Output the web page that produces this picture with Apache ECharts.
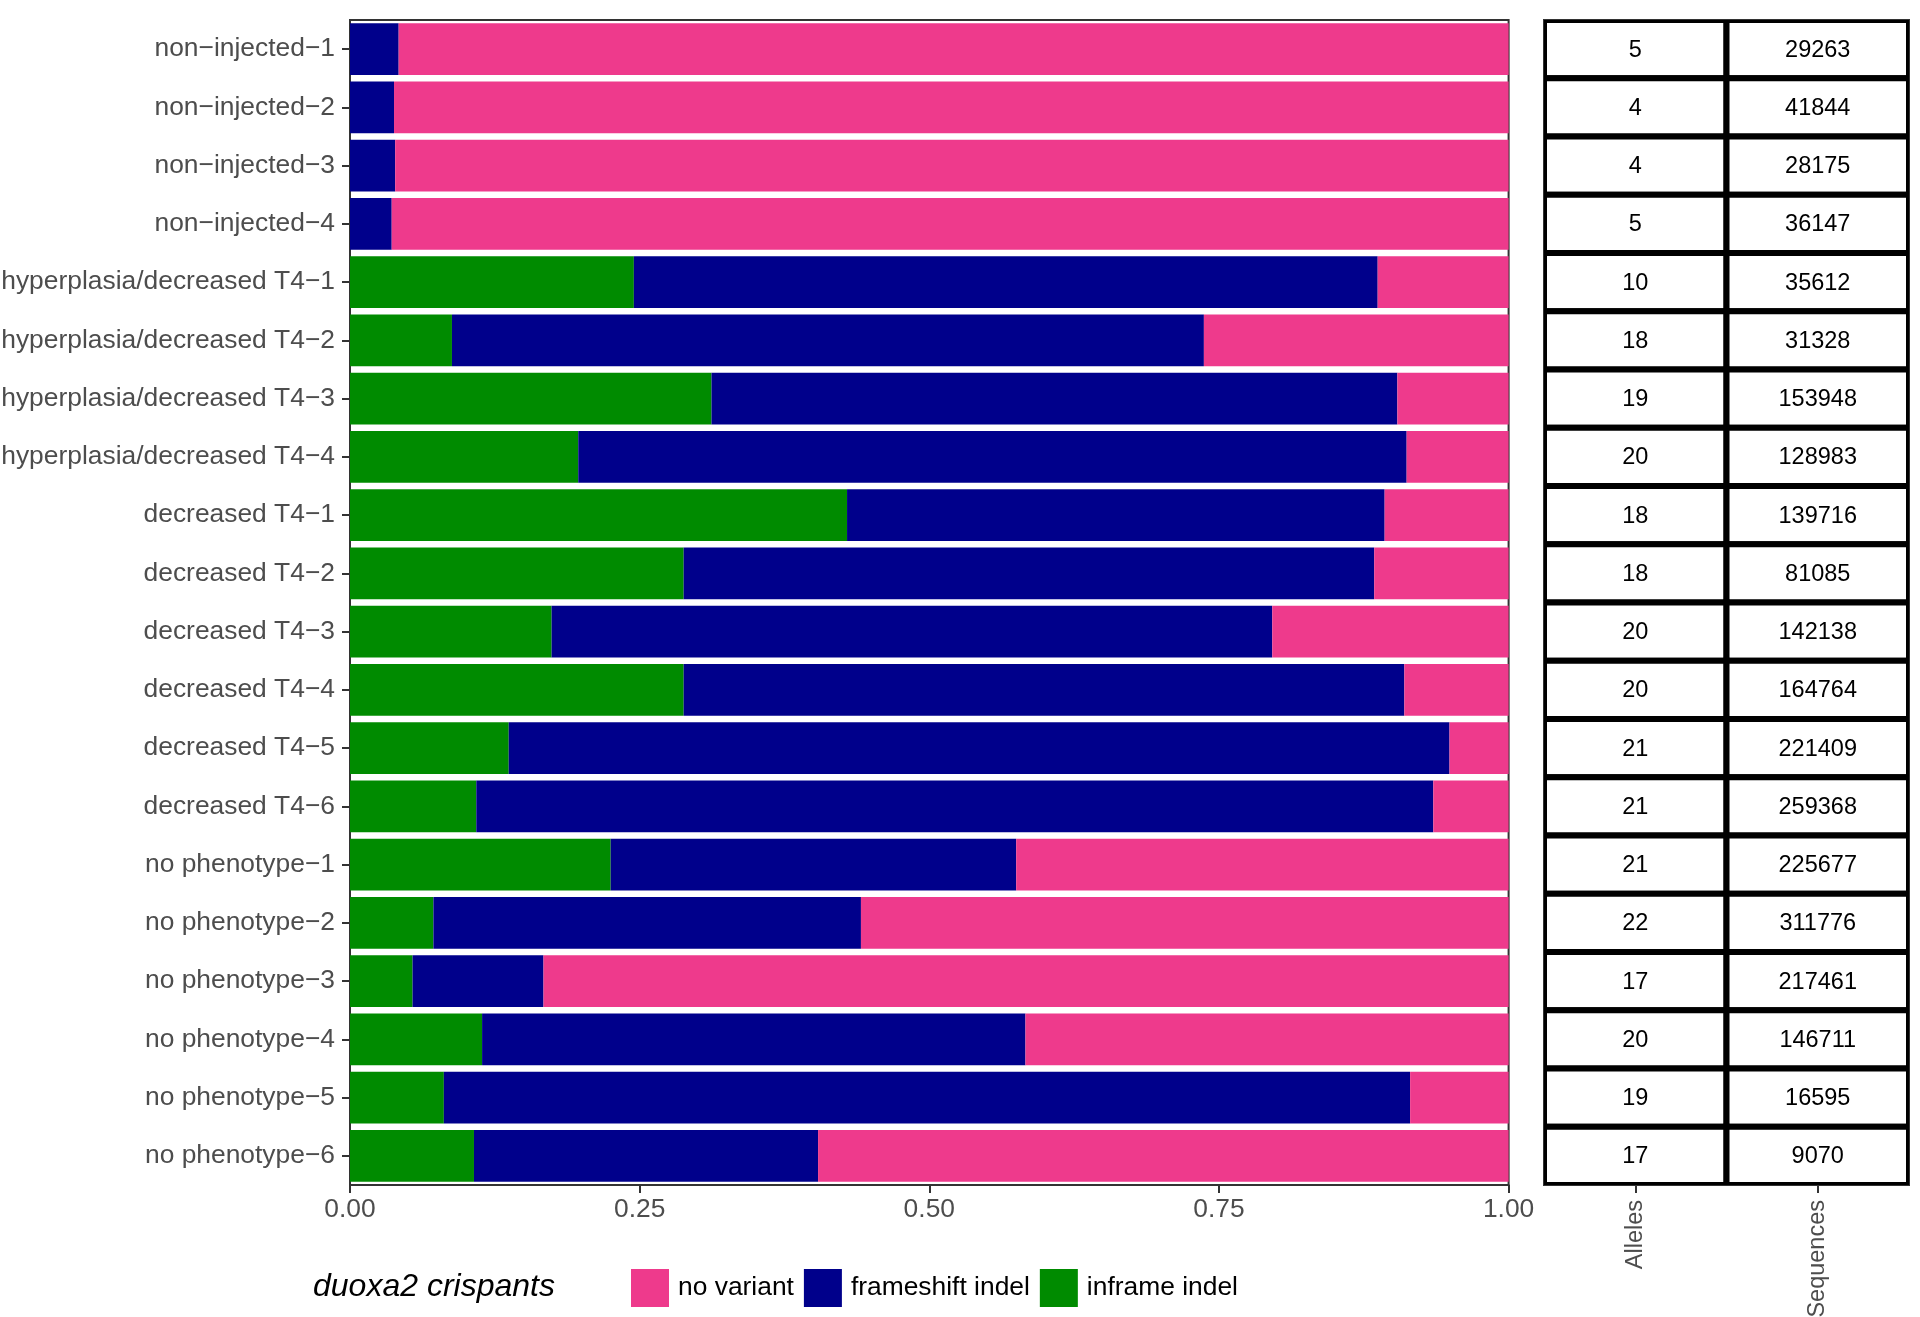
<!DOCTYPE html>
<html>
<head>
<meta charset="utf-8">
<script src="https://cdn.jsdelivr.net/npm/echarts@6/dist/echarts.min.js"></script>
<style>
  html, body { margin: 0; padding: 0; background: #ffffff; }
  #chart { width: 1920px; height: 1317px; }
</style>
</head>
<body>
<div id="chart"></div>
<script>
// Samples, top to bottom
const samples = [
  'non−injected−1', 'non−injected−2', 'non−injected−3', 'non−injected−4',
  'hyperplasia/decreased T4−1', 'hyperplasia/decreased T4−2',
  'hyperplasia/decreased T4−3', 'hyperplasia/decreased T4−4',
  'decreased T4−1', 'decreased T4−2', 'decreased T4−3',
  'decreased T4−4', 'decreased T4−5', 'decreased T4−6',
  'no phenotype−1', 'no phenotype−2', 'no phenotype−3',
  'no phenotype−4', 'no phenotype−5', 'no phenotype−6'
];

// Proportion of reads per variant class
const inframeIndel = [
  0, 0, 0, 0,
  0.245, 0.088, 0.312, 0.197,
  0.429, 0.288, 0.174, 0.288, 0.137, 0.109,
  0.225, 0.072, 0.054, 0.114, 0.081, 0.107
];
const frameshiftIndel = [
  0.042, 0.038, 0.039, 0.036,
  0.642, 0.649, 0.592, 0.715,
  0.464, 0.596, 0.622, 0.622, 0.812, 0.826,
  0.350, 0.369, 0.113, 0.469, 0.834, 0.297
];
const noVariant = [
  0.958, 0.962, 0.961, 0.964,
  0.113, 0.263, 0.096, 0.088,
  0.107, 0.116, 0.204, 0.090, 0.051, 0.065,
  0.425, 0.559, 0.833, 0.417, 0.085, 0.596
];

// Per-sample counts shown in the side table
const alleles = [5, 4, 4, 5, 10, 18, 19, 20, 18, 18, 20, 20, 21, 21, 21, 22, 17, 20, 19, 17];
const sequences = [29263, 41844, 28175, 36147, 35612, 31328, 153948, 128983, 139716, 81085,
  142138, 164764, 221409, 259368, 225677, 311776, 217461, 146711, 16595, 9070];
const tableColumns = ['Alleles', 'Sequences'];

const xTicks = { min: 0, max: 1, interval: 0.25 };

const FONT = '"Liberation Sans", Arial, Helvetica, sans-serif';
const AXIS_GREY = '#4D4D4D';
const LINE_GREY = '#333333';
const COLORS = { noVariant: '#EE3A8C', frameshift: '#00008B', inframe: '#008B00' };

const tableData = [];
samples.forEach((s, i) => {
  tableData.push([0, i, alleles[i]]);
  tableData.push([1, i, sequences[i]]);
});

const chart = echarts.init(document.getElementById('chart'), null, { renderer: 'canvas' });

const barSeries = (name, data, color) => ({
  name: name,
  type: 'bar',
  stack: 'reads',
  xAxisIndex: 0,
  yAxisIndex: 0,
  data: data,
  barCategoryGap: '11%',
  itemStyle: { color: color },
  emphasis: { disabled: true },
  animation: false
});

chart.setOption({
  animation: false,
  backgroundColor: '#ffffff',
  textStyle: { fontFamily: FONT },
  grid: [
    { left: 350, top: 20, width: 1158.6, height: 1165, show: true,
      outerBoundsMode: 'none', containLabel: false,
      borderColor: LINE_GREY, borderWidth: 2, backgroundColor: 'transparent' },
    { left: 1544, top: 20, width: 365, height: 1165, show: true,
      outerBoundsMode: 'none', containLabel: false,
      borderColor: LINE_GREY, borderWidth: 2, backgroundColor: 'transparent' }
  ],
  xAxis: [
    {
      type: 'value', gridIndex: 0,
      min: xTicks.min, max: xTicks.max, interval: xTicks.interval,
      axisLine: { show: true, lineStyle: { color: LINE_GREY, width: 2 } },
      axisTick: { show: true, length: 8, lineStyle: { color: LINE_GREY, width: 2 } },
      axisLabel: { fontSize: 26.4, color: AXIS_GREY, fontFamily: FONT, margin: 12,
        formatter: v => v.toFixed(2) },
      splitLine: { show: false }
    },
    {
      type: 'category', gridIndex: 1, data: tableColumns,
      axisLine: { show: true, lineStyle: { color: LINE_GREY, width: 2 } },
      axisTick: { show: true, alignWithLabel: true, length: 8, lineStyle: { color: LINE_GREY, width: 2 } },
      axisLabel: { fontSize: 23.5, color: AXIS_GREY, fontFamily: FONT, rotate: 90, margin: 15 },
      splitLine: { show: false }
    }
  ],
  yAxis: [
    {
      type: 'category', gridIndex: 0, data: samples, inverse: true,
      axisLine: { show: true, lineStyle: { color: LINE_GREY, width: 2 } },
      axisTick: { show: true, alignWithLabel: true, length: 8, lineStyle: { color: LINE_GREY, width: 2 } },
      axisLabel: { fontSize: 26.4, color: AXIS_GREY, fontFamily: FONT, margin: 15 },
      splitLine: { show: false }
    },
    {
      type: 'category', gridIndex: 1, data: samples, inverse: true,
      axisLine: { show: false }, axisTick: { show: false }, axisLabel: { show: false },
      splitLine: { show: false }
    }
  ],
  legend: {
    left: 631, top: 1269, padding: 0,
    itemWidth: 38, itemHeight: 38, itemGap: 10,
    icon: 'rect',
    data: ['no variant', 'frameshift indel', 'inframe indel'],
    textStyle: { fontSize: 26.4, color: '#000000', fontFamily: FONT, padding: [0, 0, 0, 4] },
    selectedMode: false
  },
  graphic: [
    {
      type: 'text', x: 313, y: 1287,
      style: {
        text: 'duoxa2 crispants',
        font: 'italic 32px ' + FONT,
        fill: '#000000',
        verticalAlign: 'middle'
      }
    }
  ],
  series: [
    barSeries('inframe indel', inframeIndel, COLORS.inframe),
    barSeries('frameshift indel', frameshiftIndel, COLORS.frameshift),
    barSeries('no variant', noVariant, COLORS.noVariant),
    {
      type: 'custom',
      xAxisIndex: 1,
      yAxisIndex: 1,
      clip: true,
      data: tableData,
      animation: false,
      renderItem: function (params, api) {
        const c = api.coord([api.value(0), api.value(1)]);
        const s = api.size([1, 1]);
        return {
          type: 'group',
          children: [
            {
              type: 'rect',
              shape: { x: c[0] - s[0] / 2, y: c[1] - s[1] / 2, width: s[0], height: s[1] },
              style: { fill: '#ffffff', stroke: '#000000', lineWidth: 6 }
            },
            {
              type: 'text',
              x: c[0], y: c[1] + 1,
              style: {
                text: String(api.value(2)),
                font: '23.5px ' + FONT,
                fill: '#000000',
                align: 'center',
                verticalAlign: 'middle'
              }
            }
          ]
        };
      }
    }
  ]
});
</script>
</body>
</html>
